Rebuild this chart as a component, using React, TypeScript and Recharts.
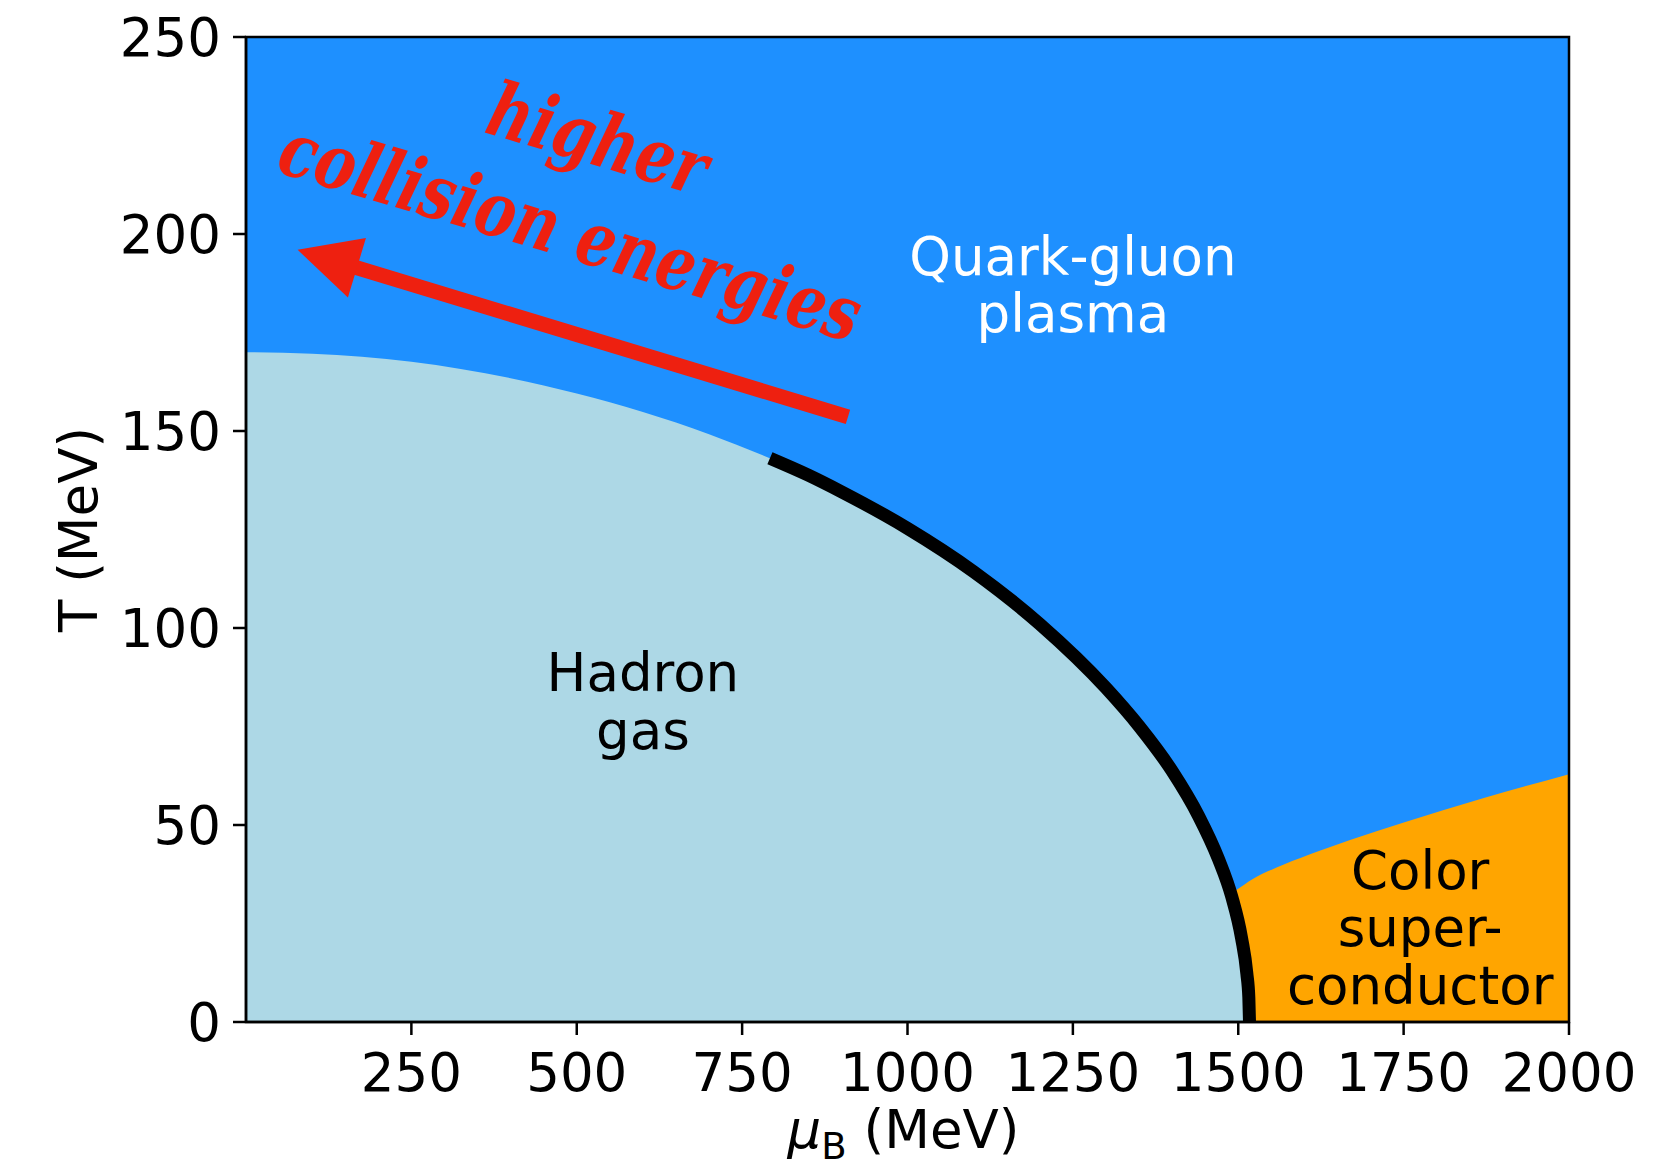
import React from "react";
import {
  ComposedChart,
  Area,
  Line,
  XAxis,
  YAxis,
  CartesianGrid,
  ReferenceLine,
  ReferenceDot,
  ReferenceArea,
} from "recharts";

// hadron gas / QGP boundary (mu_B in MeV, T in MeV)
const hadronMu = [0, 100, 250, 400, 500, 600, 700, 800, 850, 900, 1000, 1100, 1200, 1300, 1350, 1400, 1440, 1470, 1490, 1505, 1513, 1516, 1517];
const hadronT = [170, 169.6, 167.6, 163.4, 159.5, 154.8, 149.2, 142.5, 138.8, 134.6, 125.3, 114.3, 101.0, 84.8, 75.1, 63.7, 52.3, 41.4, 31.9, 21.3, 12.3, 6.2, 0];

// thick first-order transition line
const firstOrderMu = [792, 850, 900, 1000, 1100, 1200, 1300, 1350, 1400, 1440, 1470, 1490, 1505, 1513, 1516, 1517];
const firstOrderT = [143.1, 138.8, 134.6, 125.3, 114.3, 101.0, 84.8, 75.1, 63.7, 52.3, 41.4, 31.9, 21.3, 12.3, 6.2, 0];

// colour superconductor upper edge
const cscMu = [1485, 1497, 1522, 1568, 1622, 1669, 1749, 1870, 2000];
const cscT = [32.2, 33.5, 36.3, 39.9, 43.4, 46.2, 50.6, 56.8, 62.9];

const xTicks = [250, 500, 750, 1000, 1250, 1500, 1750, 2000];
const yTicks = [0, 50, 100, 150, 200, 250];

const hadron = hadronMu.map((mu, i) => ({ mu, T: hadronT[i] }));
const firstOrder = firstOrderMu.map((mu, i) => ({ mu, T: firstOrderT[i] }));
const csc = cscMu.map((mu, i) => ({ mu, T: cscT[i] }));

const QGP_BLUE = "#1e90ff";
const HADRON_BLUE = "#add8e6";
const ORANGE = "#ffa500";
const RED = "#ee2010";
const FONT = "DejaVu Sans";
const FS = 53;

function regionLabel(lines: string[], color: string) {
  return (props: any) => {
    const { cx, cy } = props;
    const step = 57.5;
    const first = -((lines.length - 1) * step) / 2 + 13;
    return (
      <text textAnchor="middle" fontFamily={FONT} fontSize={FS} fill={color}>
        {lines.map((s, i) => (
          <tspan key={i} x={cx} y={cy + first + i * step}>
            {s}
          </tspan>
        ))}
      </text>
    );
  };
}

// bold italic serif, squeezed horizontally like the condensed face
const energyLabel = (props: any) => {
  const { cx, cy } = props;
  return (
    <g transform={`translate(${cx},${cy}) rotate(16.5) scale(0.8,1)`}>
      <text
        textAnchor="middle"
        fontFamily="'DejaVu Serif', serif"
        fontWeight="bold"
        fontStyle="italic"
        fontSize={76}
        fill={RED}
      >
        <tspan x={0} y={-48.5}>higher</tspan>
        <tspan x={0} y={48.5}>collision energies</tspan>
      </text>
    </g>
  );
};

const arrowShape = (props: any) => {
  const { x1, y1, x2, y2 } = props;
  // tip is the left end
  const [tx, ty, sx, sy] = x1 < x2 ? [x1, y1, x2, y2] : [x2, y2, x1, y1];
  const dx = tx - sx;
  const dy = ty - sy;
  const len = Math.hypot(dx, dy);
  const ux = dx / len;
  const uy = dy / len;
  const headL = 62;
  const headW = 31;
  const bx = tx - ux * headL;
  const by = ty - uy * headL;
  const nx = -uy;
  const ny = ux;
  return (
    <g>
      <line x1={sx} y1={sy} x2={bx + ux * 4} y2={by + uy * 4} stroke={RED} strokeWidth={15} />
      <polygon
        points={`${tx},${ty} ${bx + nx * headW},${by + ny * headW} ${bx - nx * headW},${by - ny * headW}`}
        fill={RED}
      />
    </g>
  );
};

const xLabel = (props: any) => {
  const vb = props.viewBox ?? { x: 246, y: 1022, width: 1323, height: 145 };
  const cx = vb.x + vb.width / 2 - 4;
  return (
    <text x={cx} y={vb.y + 126} textAnchor="middle" fontFamily={FONT} fontSize={FS} fill="#000">
      <tspan fontStyle="italic">μ</tspan>
      <tspan dy={11} fontSize={37}>B</tspan>
      <tspan dy={-11}>{"\u00a0(MeV)"}</tspan>
    </text>
  );
};

const yLabel = (props: any) => {
  const vb = props.viewBox ?? { x: 0, y: 37, width: 246, height: 985 };
  const cy = vb.y + vb.height / 2;
  return (
    <text
      transform={`translate(${vb.x + 97},${cy}) rotate(-90)`}
      textAnchor="middle"
      fontFamily={FONT}
      fontSize={FS}
      fill="#000"
    >
      T (MeV)
    </text>
  );
};

const tickStyle = { fill: "#000", fontSize: FS, fontFamily: FONT };
const axisStroke = { stroke: "#000", strokeWidth: 2.5 };

export default function App() {
  return (
    <div style={{ position: "absolute", left: 0, top: 0, width: 1680, height: 1167, background: "#fff" }}>
      <ComposedChart width={1680} height={1167} margin={{ top: 37, right: 111, left: 0, bottom: 0 }}>
        <CartesianGrid horizontal={false} vertical={false} fill={QGP_BLUE} fillOpacity={1} />
        <XAxis
          dataKey="mu"
          type="number"
          domain={[0, 2000]}
          ticks={xTicks}
          interval={0}
          allowDataOverflow
          height={145}
          tickSize={13}
          tickMargin={18}
          tick={tickStyle}
          tickLine={axisStroke}
          axisLine={axisStroke}
          label={xLabel}
        />
        <YAxis
          dataKey="T"
          type="number"
          domain={[0, 250]}
          ticks={yTicks}
          interval={0}
          allowDataOverflow
          width={246}
          tickSize={13}
          tickMargin={12}
          tick={tickStyle}
          tickLine={axisStroke}
          axisLine={axisStroke}
          label={yLabel}
        />
        <Area
          data={csc}
          dataKey="T"
          type="monotone"
          stroke="none"
          fill={ORANGE}
          fillOpacity={1}
          dot={false}
          activeDot={false}
          isAnimationActive={false}
        />
        <Area
          data={hadron}
          dataKey="T"
          type="monotone"
          stroke="none"
          fill={HADRON_BLUE}
          fillOpacity={1}
          dot={false}
          activeDot={false}
          isAnimationActive={false}
        />
        <Line
          data={firstOrder}
          dataKey="T"
          type="monotone"
          stroke="#000"
          strokeWidth={13}
          dot={false}
          activeDot={false}
          isAnimationActive={false}
        />
        <ReferenceLine
          segment={[
            { x: 910, y: 153.6 },
            { x: 78, y: 196 },
          ]}
          shape={arrowShape}
          zIndex={1000}
        />
        <ReferenceDot x={500} y={206} r={1} shape={energyLabel} zIndex={1100} />
        <ReferenceDot x={1250} y={185.6} r={1} shape={regionLabel(["Quark-gluon", "plasma"], "#fff")} zIndex={1100} />
        <ReferenceDot x={600} y={80} r={1} shape={regionLabel(["Hadron", "gas"], "#000")} zIndex={1100} />
        <ReferenceDot
          x={1775}
          y={22.5}
          r={1}
          shape={regionLabel(["Color", "super-", "conductor"], "#000")}
          zIndex={1100}
        />
        <ReferenceArea x1={0} x2={2000} y1={0} y2={250} fill="none" stroke="#000" strokeWidth={2.5} zIndex={1200} />
      </ComposedChart>
    </div>
  );
}
